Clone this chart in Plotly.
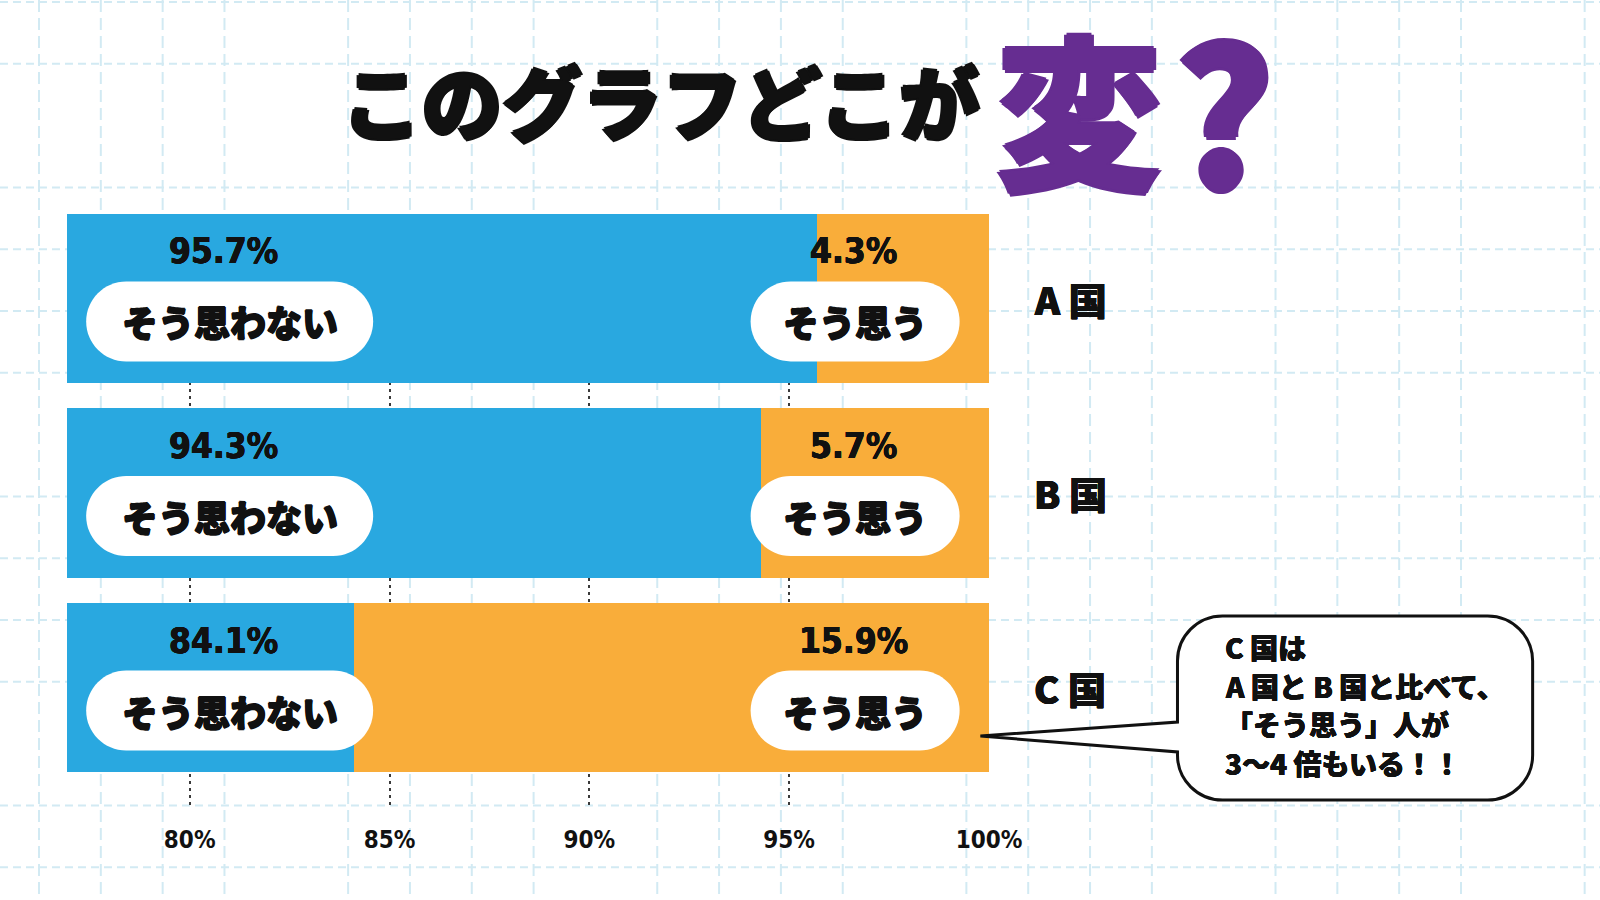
import plotly.graph_objects as go

# ---------------- data ----------------
countries = ["A 国", "B 国", "C 国"]
disagree = [95.7, 94.3, 84.1]          # そう思わない (%)
agree = [4.3, 5.7, 15.9]               # そう思う (%)
disagree_labels = ["95.7%", "94.3%", "84.1%"]
agree_labels = ["4.3%", "5.7%", "15.9%"]
disagree_name = "そう思わない"
agree_name = "そう思う"
tick_vals = [80, 85, 90, 95, 100]
tick_text = ["80%", "85%", "90%", "95%", "100%"]
title_main = "このグラフどこが"
title_accent = "変"
title_mark = "?"
bubble_lines = ["C 国は", "A 国と B 国と比べて、", "「そう思う」人が", "3～4 倍もいる！！"]
x_range = [76.93, 100]

# ---------------- style ----------------
W, H = 1600, 900
L, T = 67, 214
PW, PH = 921.6, 592
R = W - L - PW
B = H - T - PH
BLUE = "#29a8e0"
ORANGE = "#f9ad3a"
PURPLE = "#662d91"
GRID_BG = "#d2eaf3"
INK = "#111111"
CJK = "Noto Sans CJK JP"
NUM = "Liberation Sans Narrow, DejaVu Sans Condensed, Roboto, sans-serif"


def heavy(px, color=INK):
    return (f"{px}px 0 0 {color}, -{px}px 0 0 {color}, "
            f"0 {px}px 0 {color}, 0 -{px}px 0 {color}")


n = len(countries)
ypos = [n - 1 - i for i in range(n)]   # A at top
y_range = [-0.609, 2.434]


def px_x(p):
    return (p - L) / PW


def px_y(p):
    return (T + PH - p) / PH


fig = go.Figure()
fig.add_trace(go.Bar(
    y=ypos, x=disagree, orientation="h", name=disagree_name,
    marker=dict(color=BLUE, line=dict(width=0)), hoverinfo="skip",
))
fig.add_trace(go.Bar(
    y=ypos, x=agree, orientation="h", name=agree_name,
    marker=dict(color=ORANGE, line=dict(width=0)), hoverinfo="skip",
))

shapes = []
# background graph-paper grid
k = 0
while True:
    xp = 39 + 61.8 * k
    if xp > W:
        break
    if k % 5 != 4:
        shapes.append(dict(type="line", xref="paper", yref="paper",
                           x0=px_x(xp), x1=px_x(xp), y0=px_y(0), y1=px_y(H),
                           line=dict(color=GRID_BG, width=2, dash="12px,6px"),
                           layer="below"))
    k += 1
k = 0
while True:
    yp = 2 + 61.8 * k
    if yp > H:
        break
    if k % 5 != 2:
        shapes.append(dict(type="line", xref="paper", yref="paper",
                           x0=px_x(0), x1=px_x(W), y0=px_y(yp), y1=px_y(yp),
                           line=dict(color=GRID_BG, width=2, dash="8px,5px"),
                           layer="below"))
    k += 1


def pill_path(w, h, dy):
    r = h / 2.0
    c = 0.5523 * r
    x0 = -w / 2 + r
    x1 = w / 2 - r
    hw = w / 2
    pts = [
        f"M{x0},{dy - r}", f"L{x1},{dy - r}",
        f"C{x1 + c},{dy - r} {hw},{dy - c} {hw},{dy}",
        f"C{hw},{dy + c} {x1 + c},{dy + r} {x1},{dy + r}",
        f"L{x0},{dy + r}",
        f"C{x0 - c},{dy + r} {-hw},{dy + c} {-hw},{dy}",
        f"C{-hw},{dy - c} {x0 - c},{dy - r} {x0},{dy - r}", "Z",
    ]
    return " ".join(pts)


LEFT_X, RIGHT_X = 81.0, 96.65
PILL_DY = -23
for yv in ypos:
    for cx, wpx in ((LEFT_X, 287), (RIGHT_X, 209)):
        shapes.append(dict(type="path", xref="x", yref="y",
                           xsizemode="pixel", ysizemode="pixel",
                           xanchor=cx, yanchor=yv,
                           path=pill_path(wpx, 80, PILL_DY),
                           fillcolor="white", line=dict(width=0), layer="above"))

# speech bubble
bl, br, bt, bb, rr = 1177, 1532, 616, 800, 45
cc = 0.5523 * rr
tip = (980, 736)
j_up, j_lo = 722, 752


def P(x, y):
    return f"{px_x(x)},{px_y(y)}"


bubble = " ".join([
    "M" + P(bl + rr, bt), "L" + P(br - rr, bt),
    "C" + P(br - rr + cc, bt) + " " + P(br, bt + rr - cc) + " " + P(br, bt + rr),
    "L" + P(br, bb - rr),
    "C" + P(br, bb - rr + cc) + " " + P(br - rr + cc, bb) + " " + P(br - rr, bb),
    "L" + P(bl + rr, bb),
    "C" + P(bl + rr - cc, bb) + " " + P(bl, bb - rr + cc) + " " + P(bl, bb - rr),
    "L" + P(bl, j_lo), "L" + P(*tip), "L" + P(bl, j_up),
    "L" + P(bl, bt + rr),
    "C" + P(bl, bt + rr - cc) + " " + P(bl + rr - cc, bt) + " " + P(bl + rr, bt),
    "Z",
])
shapes.append(dict(type="path", xref="paper", yref="paper", path=bubble,
                   fillcolor="white", line=dict(color=INK, width=3),
                   layer="above"))

annotations = []
num_font = dict(family=NUM, size=35, color=INK, weight="bold", shadow=heavy(0.4))
pill_font = dict(family=CJK, size=36, color=INK, weight=900, shadow=heavy(0.8))
for i, yv in enumerate(ypos):
    annotations.append(dict(x=80.85, y=yv, xref="x", yref="y", yshift=47,
                            xanchor="center", yanchor="middle",
                            text=disagree_labels[i], showarrow=False, font=num_font))
    annotations.append(dict(x=96.6, y=yv, xref="x", yref="y", yshift=47,
                            xanchor="center", yanchor="middle",
                            text=agree_labels[i], showarrow=False, font=num_font))
    annotations.append(dict(x=LEFT_X, y=yv, xref="x", yref="y", yshift=PILL_DY,
                            xanchor="center", yanchor="middle",
                            text=disagree_name, showarrow=False, font=pill_font))
    annotations.append(dict(x=RIGHT_X, y=yv, xref="x", yref="y", yshift=PILL_DY,
                            xanchor="center", yanchor="middle",
                            text=agree_name, showarrow=False, font=pill_font))
    annotations.append(dict(x=px_x(1032), y=yv, xref="paper", yref="y",
                            xanchor="left", yanchor="middle",
                            text=countries[i], showarrow=False,
                            font=dict(family=CJK, size=38, color=INK, weight=900,
                                      shadow=heavy(0.45))))

# title
annotations.append(dict(x=px_x(661), y=px_y(99), xref="paper", yref="paper",
                        xanchor="center", yanchor="middle",
                        text=title_main, showarrow=False,
                        font=dict(family=CJK, size=80, color=INK, weight=900,
                                  shadow=heavy(2.0))))
annotations.append(dict(x=px_x(1079), y=px_y(104), xref="paper", yref="paper",
                        xanchor="center", yanchor="middle",
                        text=title_accent, showarrow=False,
                        font=dict(family=CJK, size=166, color=PURPLE, weight=900,
                                  shadow=heavy(2.5, PURPLE))))
annotations.append(dict(x=px_x(1223), y=px_y(106), xref="paper", yref="paper",
                        xanchor="center", yanchor="middle",
                        text=title_mark, showarrow=False,
                        font=dict(family=CJK, size=190, color=PURPLE, weight=900,
                                  shadow=heavy(2.5, PURPLE))))

# bubble text
for i, line in enumerate(bubble_lines):
    annotations.append(dict(x=px_x(1222), y=px_y(647 + 38.7 * i), xref="paper", yref="paper",
                            xanchor="left", yanchor="middle", text=line, showarrow=False,
                            font=dict(family=CJK, size=28, color=INK, weight=900,
                                      shadow=heavy(0.35))))

fig.update_layout(
    width=W, height=H,
    margin=dict(l=L, r=R, t=T, b=B, pad=0),
    paper_bgcolor="white", plot_bgcolor="rgba(0,0,0,0)",
    barmode="stack", bargap=0.13, showlegend=False,
    shapes=shapes, annotations=annotations,
    xaxis=dict(range=x_range, tickvals=tick_vals, ticktext=tick_text,
               showgrid=True, gridcolor="#3a3a3a", gridwidth=1.6, griddash="3px,4px",
               zeroline=False, showline=False, ticks="", ticklabelstandoff=17,
               tickfont=dict(family=NUM, size=24, color=INK, weight="bold"),
               fixedrange=True),
    yaxis=dict(range=y_range, visible=False, showgrid=False, zeroline=False,
               fixedrange=True),
)

fig.write_html("out.html", config={"displayModeBar": False},
               post_script="document.body.style.margin='0';document.body.style.overflow='hidden';")
